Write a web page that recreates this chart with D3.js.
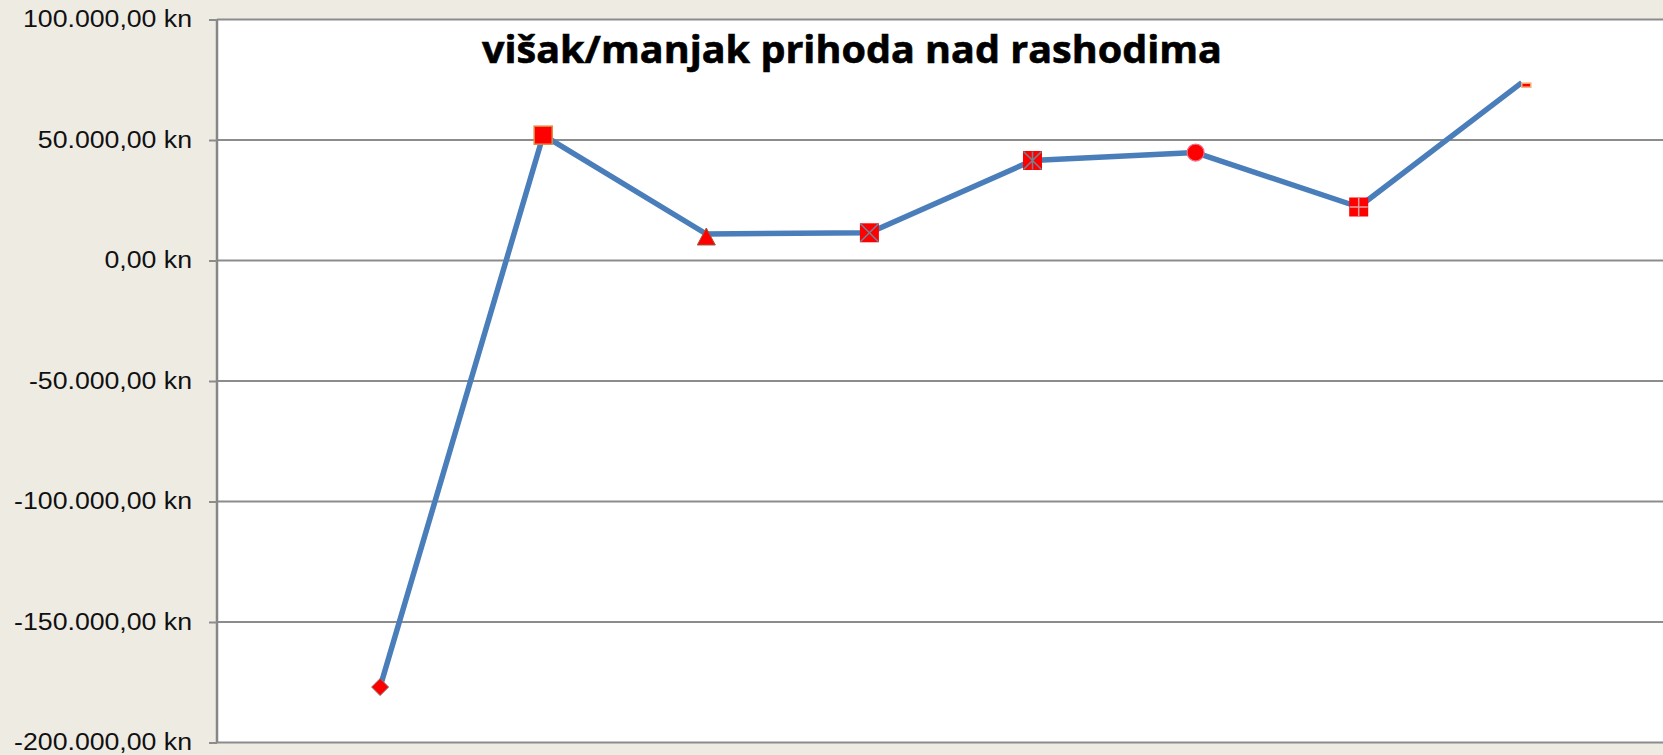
<script src="https://d3js.org/d3.v7.min.js"></script>
<body style="margin:0;background:#eeebe3">
<script>
  // data
  const categories = ["1", "2", "3", "4", "5", "6", "7", "8"];
  const values = [-177000, 52000, 11000, 11500, 41500, 44800, 22200, 73800];
  const markers = ["diamond", "square", "triangle", "x", "star", "circle", "plus", "dash"];
  const yTicks = [100000, 50000, 0, -50000, -100000, -150000, -200000];
  const title = "višak/manjak prihoda nad rashodima";

  const width = 1663, height = 755;
  const plotLeft = 217, plotTop = 19.5, plotBottom = 742.5;

  const hr = d3.formatLocale({decimal: ",", thousands: ".", grouping: [3], currency: ["", " kn"], minus: "-"});
  const fmt = v => hr.format(",.2f")(v) + " kn";

  const x = d3.scaleLinear().domain([0, categories.length]).range([plotLeft, plotLeft + 163.1 * categories.length]);
  const y = d3.scaleLinear().domain([-200000, 100000]).range([plotBottom, plotTop]);

  const svg = d3.select("body").append("svg")
    .attr("width", width)
    .attr("height", height)
    .style("display", "block");

  svg.append("rect").attr("width", width).attr("height", height).attr("fill", "#eeebe3");
  svg.append("rect")
    .attr("x", plotLeft).attr("y", plotTop)
    .attr("width", width - plotLeft).attr("height", plotBottom - plotTop)
    .attr("fill", "#ffffff");

  // gridlines
  svg.append("g").selectAll("line")
    .data(yTicks)
    .enter().append("line")
    .attr("x1", plotLeft).attr("x2", width)
    .attr("y1", d => y(d)).attr("y2", d => y(d))
    .attr("stroke", "#8c8c8c")
    .attr("stroke-width", 2);

  // y axis
  const sx = 1.16;
  const ax = svg.append("g")
    .attr("transform", "translate(" + plotLeft + ",0)")
    .call(d3.axisLeft(y).tickValues(yTicks).tickFormat(fmt).tickSize(8).tickPadding(25 / sx - 8));
  ax.select(".domain").attr("stroke", "#868686").attr("stroke-width", 2.5).attr("d", "M0," + plotTop + "V" + plotBottom);
  ax.selectAll(".tick line").attr("stroke", "#8c8c8c").attr("stroke-width", 2);
  ax.selectAll(".tick text")
    .attr("font-family", "'Liberation Sans', Arial, sans-serif")
    .attr("font-size", "23px")
    .attr("fill", "#111")
    .attr("transform", "scale(" + sx + ",1)");

  // line
  const line = d3.line()
    .x((d, i) => x(i + 1))
    .y(d => y(d));

  svg.append("path")
    .datum(values)
    .attr("d", line)
    .attr("fill", "none")
    .attr("stroke", "#4a7ebb")
    .attr("stroke-width", 5.5)
    .attr("stroke-linejoin", "round");

  // markers, one style per point like excel's default cycle
  const g = svg.selectAll("g.mk")
    .data(values)
    .enter().append("g")
    .attr("class", "mk")
    .attr("transform", (d, i) => "translate(" + x(i + 1) + "," + y(d) + ")");

  g.each(function(d, i) {
    const m = d3.select(this);
    const t = markers[i];
    if (t == "diamond") {
      m.append("path").attr("d", "M0,-8.5L8.5,0L0,8.5L-8.5,0Z")
        .attr("fill", "red").attr("stroke", "#8a7070").attr("stroke-width", 1);
    } else if (t == "square") {
      m.append("rect").attr("x", -9).attr("y", -9).attr("width", 18).attr("height", 18)
        .attr("fill", "red").attr("stroke", "#e08a3c").attr("stroke-width", 1.5);
    } else if (t == "triangle") {
      m.append("path").attr("d", "M0,-6L9,11L-9,11Z")
        .attr("fill", "red").attr("stroke", "#a05a3a").attr("stroke-width", 1);
    } else if (t == "x" || t == "star" || t == "plus") {
      m.append("rect").attr("x", -9.5).attr("y", -9.5).attr("width", 19).attr("height", 19)
        .attr("fill", "red");
      let p = "";
      if (t == "x" || t == "star") p += "M-9,-9L9,9M9,-9L-9,9";
      if (t == "star") p += "M0,-9V9";
      if (t == "plus") p += "M0,-9V9M-9,0H9";
      m.append("path").attr("d", p)
        .attr("stroke", t == "plus" ? "#e0a0a0" : "#6f8499").attr("stroke-width", 1.5);
    } else if (t == "circle") {
      m.append("circle").attr("r", 8.5)
        .attr("fill", "red").attr("stroke", "#f0708a").attr("stroke-width", 1.2);
    } else if (t == "dash") {
      m.append("rect").attr("x", 0).attr("y", 0.5).attr("width", 9).attr("height", 4)
        .attr("fill", "red").attr("stroke", "#f5b07a").attr("stroke-width", 1.5);
    }
  });

  // title
  svg.append("text")
    .attr("x", 852)
    .attr("y", 63)
    .attr("text-anchor", "middle")
    .attr("font-family", "'Open Sans', sans-serif")
    .attr("font-weight", "bold")
    .attr("font-size", "37px")
    .attr("textLength", 740)
    .attr("lengthAdjust", "spacingAndGlyphs")
    .attr("fill", "#000")
    .attr("stroke", "#000")
    .attr("stroke-width", 0.6)
    .text(title);
</script>
</body>
